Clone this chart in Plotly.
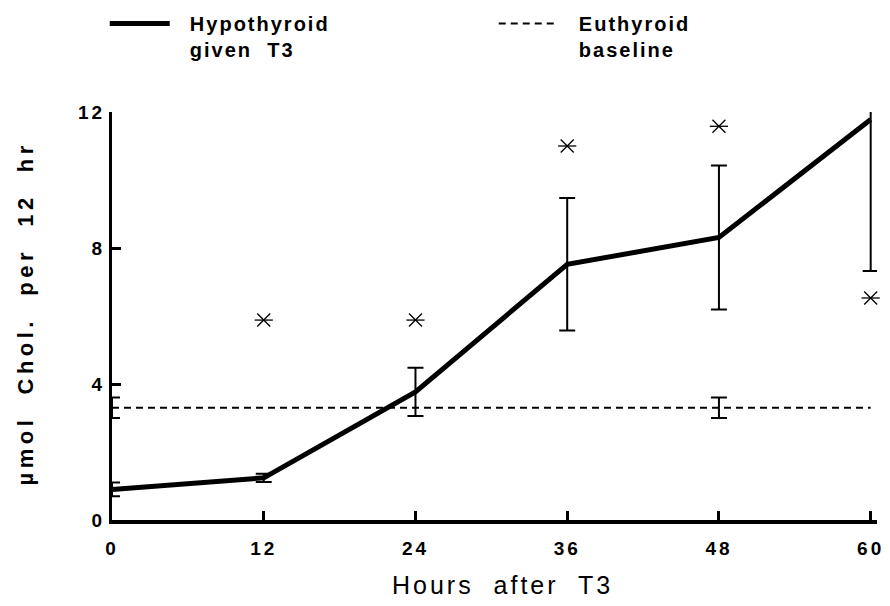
import plotly.graph_objects as go

# ---- data ----
hours = [0, 12, 24, 36, 48, 60]
hypo_mean = [0.90, 1.24, 3.77, 7.52, 8.31, 11.78]
hypo_sem = [0.20, 0.12, 0.71, 1.95, 2.12, 4.46]

eu_hours = [0, 60]
eu_mean = [3.3, 3.3]
eu_err_hours = [0, 48]
eu_err_mean = [3.3, 3.3]
eu_err_sem = [0.30, 0.30]

star_hours = [12, 24, 36, 48, 60]
star_vals = [5.88, 5.88, 11.0, 11.58, 6.53]

x_tickvals = [0, 12, 24, 36, 48, 60]
x_ticklabels = ["0", "12", "24", "36", "48", "60"]
y_tickvals = [0, 4, 8, 12]
y_ticklabels = ["0", "4", "8", "12"]

FONT = "Liberation Sans, Arial, sans-serif"
NB = "\u00a0\u00a0"  # small gap between legend sample and text


def spaced(s, px, lead=""):
    return "<br>".join(
        f"<span style='letter-spacing:{px}px'>{lead}{line}</span>" for line in s.split("\n")
    )


fig = go.Figure()

# solid hypothyroid line
fig.add_trace(go.Scatter(
    x=hours, y=hypo_mean, mode="lines",
    line=dict(color="black", width=5),
    name=spaced("Hypothyroid\ngiven  T3", 2, NB),
    showlegend=True, legend="legend",
))

# error bars (first five, not clipped so the caps at x=0 show)
fig.add_trace(go.Scatter(
    x=hours[:5], y=hypo_mean[:5], mode="markers",
    marker=dict(size=1, opacity=0),
    error_y=dict(type="data", array=hypo_sem[:5], visible=True,
                 color="black", thickness=2, width=8),
    cliponaxis=False, showlegend=False, hoverinfo="skip",
))
# last error bar, clipped at top of plot like the original
fig.add_trace(go.Scatter(
    x=hours[5:], y=hypo_mean[5:], mode="markers",
    marker=dict(size=1, opacity=0),
    error_y=dict(type="data", array=hypo_sem[5:], visible=True,
                 color="black", thickness=2, width=8),
    cliponaxis=True, showlegend=False, hoverinfo="skip",
))

# euthyroid baseline
fig.add_trace(go.Scatter(
    x=eu_hours, y=eu_mean, mode="lines",
    line=dict(color="black", width=2, dash="7px,5px"),
    name=spaced("Euthyroid\nbaseline", 2, NB),
    showlegend=True, legend="legend2",
))
fig.add_trace(go.Scatter(
    x=eu_err_hours, y=eu_err_mean, mode="markers",
    marker=dict(size=1, opacity=0),
    error_y=dict(type="data", array=eu_err_sem, visible=True,
                 color="black", thickness=2, width=8),
    cliponaxis=False, showlegend=False, hoverinfo="skip",
))

# asterisks (X plus horizontal bar)
for sym in ["x-thin-open", "line-ew-open"]:
    fig.add_trace(go.Scatter(
        x=star_hours, y=star_vals, mode="markers",
        marker=dict(symbol=sym, size=13, color="black",
                    line=dict(color="black", width=1.3)),
        cliponaxis=False, showlegend=False, hoverinfo="skip",
    ))

leg_common = dict(
    orientation="h", xanchor="left", yanchor="top", y=1.265,
    valign="top", itemwidth=60,
    font=dict(family=FONT, size=20, color="black", weight="bold"),
    bgcolor="rgba(0,0,0,0)",
)

# page body adds an 8px offset, so the figure is 8px smaller than the window
fig.update_layout(
    width=882, height=598,
    margin=dict(l=104, r=13, t=104, b=86, autoexpand=False),
    paper_bgcolor="white", plot_bgcolor="white",
    font=dict(family=FONT, color="black"),
    showlegend=True,
    legend=dict(x=-0.0095, **leg_common),
    legend2=dict(x=0.499, **leg_common),
    xaxis=dict(
        range=[0, 60.5], showgrid=False, zeroline=False,
        showline=True, linecolor="black", linewidth=4,
        tickmode="array", tickvals=x_tickvals,
        ticktext=[spaced(t, 3) for t in x_ticklabels],
        ticks="inside", ticklen=9, tickwidth=3, tickcolor="black",
        ticklabelstandoff=8,
        tickfont=dict(family=FONT, size=19, color="black", weight="bold"),
    ),
    yaxis=dict(
        range=[0, 12], showgrid=False, zeroline=False,
        showline=True, linecolor="black", linewidth=3,
        tickmode="array", tickvals=y_tickvals,
        ticktext=[spaced(t, 3) for t in y_ticklabels],
        ticks="inside", ticklen=9, tickwidth=3, tickcolor="black",
        tickfont=dict(family=FONT, size=19, color="black", weight="bold"),
    ),
    annotations=[
        dict(text=spaced("Hours  after  T3", 3), xref="paper", yref="paper",
             x=0.51, y=-0.16, xanchor="center", yanchor="middle", showarrow=False,
             font=dict(family=FONT, size=25, color="black")),
        dict(text=spaced("µmol  Chol.  per  12  hr", 4.5), xref="paper", yref="paper",
             x=-0.113, y=0.505, xanchor="center", yanchor="middle", showarrow=False,
             textangle=-90,
             font=dict(family=FONT, size=22, color="black", weight="bold")),
    ],
)

fig.write_html("out.html")
